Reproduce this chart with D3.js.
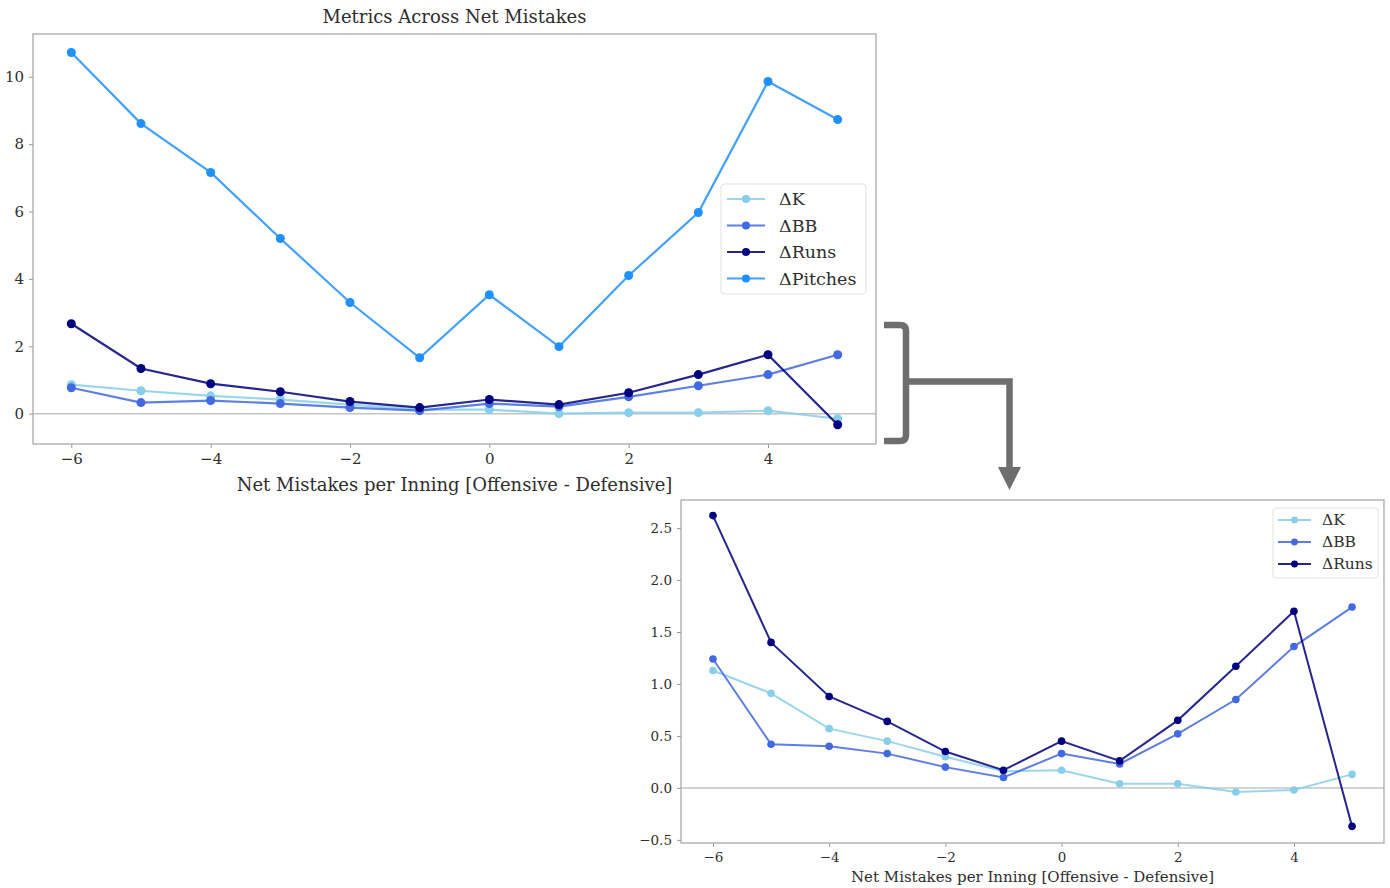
<!DOCTYPE html>
<html>
<head>
<meta charset="utf-8">
<script src="https://cdn.jsdelivr.net/npm/d3@7"></script>
<style>
  body { margin: 0; background: #fff; }
  svg { display: block; font-family: "DejaVu Serif", serif; }
</style>
</head>
<body>
<div id="chart"></div>
<script>
// x categories: net mistakes per inning
const netMistakes = [-6, -5, -4, -3, -2, -1, 0, 1, 2, 3, 4, 5];

// top chart (all four metrics)
const topK       = [0.86, 0.68, 0.53, 0.42, 0.27, 0.12, 0.12, 0.00, 0.03, 0.03, 0.09, -0.15];
const topBB      = [0.77, 0.33, 0.39, 0.30, 0.18, 0.09, 0.30, 0.21, 0.50, 0.83, 1.16, 1.75];
const topRuns    = [2.67, 1.34, 0.89, 0.65, 0.36, 0.18, 0.42, 0.27, 0.62, 1.16, 1.75, -0.33];
const topPitches = [10.72, 8.61, 7.16, 5.20, 3.30, 1.66, 3.53, 1.99, 4.10, 5.97, 9.86, 8.73];

// zoomed chart (without pitches)
const zoomK    = [1.13, 0.91, 0.57, 0.45, 0.30, 0.16, 0.17, 0.04, 0.04, -0.04, -0.02, 0.13];
const zoomBB   = [1.24, 0.42, 0.40, 0.33, 0.20, 0.10, 0.33, 0.23, 0.52, 0.85, 1.36, 1.74];
const zoomRuns = [2.62, 1.40, 0.88, 0.64, 0.35, 0.17, 0.45, 0.26, 0.65, 1.17, 1.70, -0.37];

const topYTicks = [0, 2, 4, 6, 8, 10];
const zoomYTicks = [-0.5, 0, 0.5, 1.0, 1.5, 2.0, 2.5];
const xTicks = [-6, -4, -2, 0, 2, 4];

const colors = { "ΔK": "#87ceeb", "ΔBB": "#4169e1", "ΔRuns": "#000080", "ΔPitches": "#1e90ff" };

const svg = d3.select("#chart").append("svg")
    .attr("width", 1390)
    .attr("height", 888);

function drawChart(opts) {
    const x = d3.scaleLinear().domain([-6.55, 5.55]).range([opts.left, opts.right]);
    const y = d3.scaleLinear().domain(opts.yDomain).range([opts.bottom, opts.top]);
    const g = svg.append("g");

    // y = 0 reference line
    g.append("line")
        .attr("x1", opts.left).attr("x2", opts.right)
        .attr("y1", y(0)).attr("y2", y(0))
        .attr("stroke", "#c4c4c4")
        .attr("stroke-width", 1.5);

    const line = d3.line().x((d, i) => x(netMistakes[i])).y(d => y(d));

    opts.series.forEach(s => {
        g.append("path")
            .datum(s.values)
            .attr("d", line)
            .attr("fill", "none")
            .attr("stroke", colors[s.name])
            .attr("stroke-opacity", 0.85)
            .attr("stroke-width", opts.lineWidth);
        g.selectAll(null)
            .data(s.values)
            .join("circle")
            .attr("cx", (d, i) => x(netMistakes[i]))
            .attr("cy", d => y(d))
            .attr("r", opts.markerR)
            .attr("fill", colors[s.name]);
    });

    // axes
    const xAxis = g.append("g")
        .attr("transform", `translate(0,${opts.bottom})`)
        .call(d3.axisBottom(x).tickValues(xTicks).tickSize(4).tickPadding(5).tickFormat(d => d < 0 ? "\u2212" + Math.abs(d) : d));
    const yAxis = g.append("g")
        .attr("transform", `translate(${opts.left},0)`)
        .call(d3.axisLeft(y).tickValues(opts.yTicks).tickSize(4).tickPadding(5)
            .tickFormat(d => (d < 0 ? "\u2212" : "") + opts.yFormat(Math.abs(d))));
    [xAxis, yAxis].forEach(a => {
        a.select(".domain").remove();
        a.selectAll(".tick line").attr("stroke", "#999");
        a.selectAll(".tick text")
            .attr("fill", "#2e2e2e")
            .attr("font-family", "DejaVu Serif")
            .attr("font-size", opts.tickSize);
    });

    // frame
    g.append("rect")
        .attr("x", opts.left).attr("y", opts.top)
        .attr("width", opts.right - opts.left)
        .attr("height", opts.bottom - opts.top)
        .attr("fill", "none")
        .attr("stroke", "#aaa")
        .attr("stroke-width", 1.3);

    if (opts.title) {
        g.append("text")
            .attr("x", (opts.left + opts.right) / 2)
            .attr("y", opts.top - 11)
            .attr("text-anchor", "middle")
            .attr("fill", "#2e2e2e")
            .attr("font-size", opts.titleSize)
            .text(opts.title);
    }

    g.append("text")
        .attr("x", (opts.left + opts.right) / 2)
        .attr("y", opts.xLabelY)
        .attr("text-anchor", "middle")
        .attr("fill", "#2e2e2e")
        .attr("font-size", opts.labelSize)
        .text("Net Mistakes per Inning [Offensive - Defensive]");

    // legend
    const lg = opts.legend;
    g.append("rect")
        .attr("x", lg.x).attr("y", lg.y)
        .attr("width", lg.w).attr("height", lg.h)
        .attr("rx", 3)
        .attr("fill", "#fff")
        .attr("fill-opacity", 0.85)
        .attr("stroke", "#e2e2e2");
    opts.series.forEach((s, i) => {
        const cy = lg.y + lg.first + i * lg.step;
        g.append("line")
            .attr("x1", lg.x + lg.pad).attr("x2", lg.x + lg.pad + lg.len)
            .attr("y1", cy).attr("y2", cy)
            .attr("stroke", colors[s.name])
            .attr("stroke-opacity", 0.85)
            .attr("stroke-width", opts.lineWidth);
        g.append("circle")
            .attr("cx", lg.x + lg.pad + lg.len / 2).attr("cy", cy)
            .attr("r", opts.markerR * 0.9)
            .attr("fill", colors[s.name]);
        g.append("text")
            .attr("x", lg.x + lg.textX)
            .attr("y", cy)
            .attr("dy", "0.35em")
            .attr("fill", "#2e2e2e")
            .attr("font-size", lg.fontSize)
            .text(s.name);
    });
}

drawChart({
    left: 33, right: 876, top: 34, bottom: 444,
    yDomain: [-0.9, 11.27], yTicks: topYTicks, yFormat: d3.format("d"),
    lineWidth: 2.2, markerR: 4.5, tickSize: 15, labelSize: 18, titleSize: 18,
    title: "Metrics Across Net Mistakes", xLabelY: 491,
    series: [
        { name: "ΔK", values: topK },
        { name: "ΔBB", values: topBB },
        { name: "ΔRuns", values: topRuns },
        { name: "ΔPitches", values: topPitches }
    ],
    legend: { x: 721, y: 184, w: 145, h: 110, first: 15, step: 26.5, pad: 6, len: 38, textX: 58, fontSize: 17.5 }
});

drawChart({
    left: 681, right: 1384, top: 500, bottom: 843,
    yDomain: [-0.53, 2.77], yTicks: zoomYTicks, yFormat: d3.format(".1f"),
    lineWidth: 2, markerR: 3.8, tickSize: 13.5, labelSize: 15, 
    title: null, xLabelY: 882,
    series: [
        { name: "ΔK", values: zoomK },
        { name: "ΔBB", values: zoomBB },
        { name: "ΔRuns", values: zoomRuns }
    ],
    legend: { x: 1273, y: 508, w: 105, h: 70, first: 12, step: 22, pad: 5, len: 33, textX: 49, fontSize: 15.5 }
});

// bracket and arrow linking the two charts
const connector = svg.append("g")
    .attr("fill", "none")
    .attr("stroke", "#6e6e6e")
    .attr("stroke-width", 6.5);
connector.append("path")
    .attr("d", "M884,325 H900 Q906,325 906,331 V435 Q906,441 900,441 H884")
    .attr("stroke-linejoin", "round");
connector.append("path")
    .attr("d", "M906,381.5 H1009.5 V470");
svg.append("path")
    .attr("d", "M998,467 L1021,467 L1009.5,490 Z")
    .attr("fill", "#6e6e6e");
</script>
</body>
</html>
